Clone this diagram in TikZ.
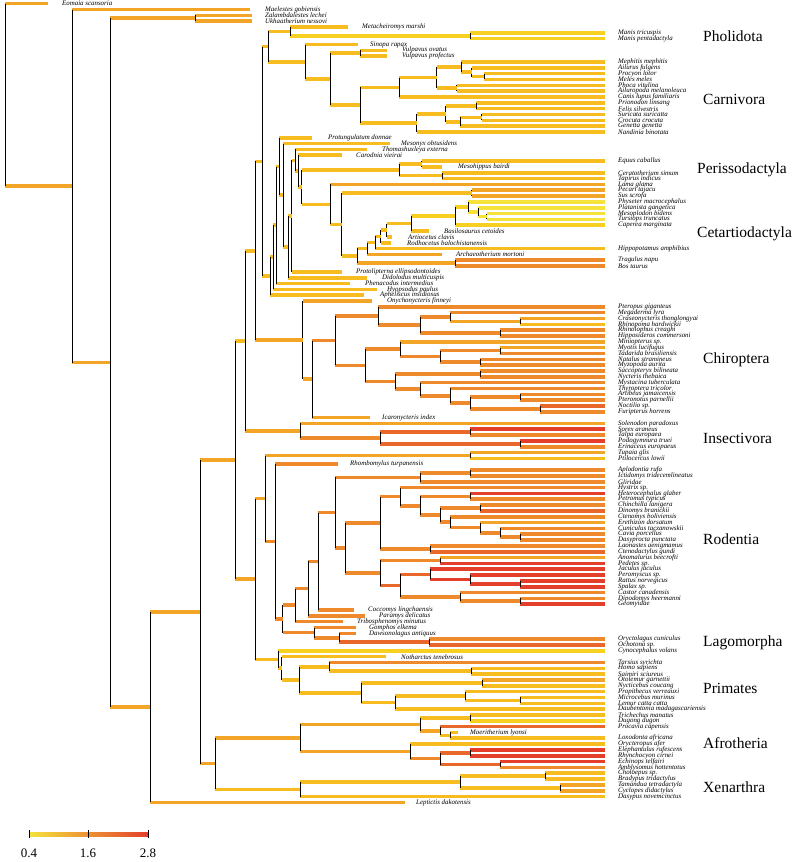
\documentclass[tikz,border=0pt]{standalone}
\usepackage{fontspec}
\setmainfont{Liberation Serif}
\usetikzlibrary{calc}

% rate colours (yellow = slow, red = fast)
\definecolor{rt1}{HTML}{F5E33C}
\definecolor{rt2}{HTML}{F8D021}
\definecolor{rt3}{HTML}{F7BC1F}
\definecolor{rt4}{HTML}{F3A527}
\definecolor{rt5}{HTML}{EE8A2B}
\definecolor{rt6}{HTML}{E9672B}
\definecolor{rt7}{HTML}{E33F2B}

\tikzset{
  bar/.style={line width=3.6pt},
  vline/.style={line width=0.8pt,black},
  tiplab/.style={anchor=west,inner sep=0pt,font=\fontsize{6.9}{6.9}\selectfont\itshape},
  cladelab/.style={anchor=west,inner sep=0pt,font=\fontsize{15.5}{15.5}\selectfont}
}

% living tip: name, row, label
\newcommand{\tipE}[3]{%
  \coordinate (#1) at (605,#2);
  \node[tiplab] (#1-l) at (618,#2) {#3};}
% fossil tip: name, row, end of branch, label x, label
\newcommand{\tipF}[5]{%
  \coordinate (#1) at (#3,#2);
  \node[tiplab] (#1-l) at (#4,#2) {#5};}
% clade: name, x, first child, colour, last child, colour
\newcommand{\clade}[6]{%
  \path let \p1=(#3), \p2=(#5) in (#2pt,{0.5*(\y1+\y2)}) coordinate (#1);
  \draw[bar,#4] (#1 |- #3) -- (#3);
  \draw[bar,#6] (#1 |- #5) -- (#5);
  \draw[vline] (#1 |- #3) -- (#1 |- #5);}

\begin{document}
\begin{tikzpicture}[x=1pt,y=-5.83pt]
\useasboundingbox (0pt,3.7pt) rectangle (794pt,-858.3pt);

% tips
\tipF{eom}{0}{48}{62}{Eomaia scansoria}
\tipF{mae}{1}{250}{265}{Maelestes gobiensis}
\tipF{zal}{2}{252}{265}{Zalambdalestes lechei}
\tipF{ukh}{3}{252}{265}{Ukhaatherium nessovi}
\tipF{met}{4}{348}{362}{Metacheiromys marshi}
\tipE{mtr}{5}{Manis tricuspis}
\tipE{mpe}{6}{Manis pentadactyla}
\tipF{sin}{7}{358}{370}{Sinopa rapax}
\tipF{vov}{8}{387}{402}{Vulpavus ovatus}
\tipF{vpr}{9}{387}{402}{Vulpavus profectus}
\tipE{meph}{10}{Mephitis mephitis}
\tipE{ailu}{11}{Ailurus fulgens}
\tipE{pcyn}{12}{Procyon lotor}
\tipE{mele}{13}{Meles meles}
\tipE{phoc}{14}{Phoca vitulina}
\tipE{ailm}{15}{Ailuropoda melanoleuca}
\tipE{cani}{16}{Canis lupus familiaris}
\tipE{prio}{17}{Prionodon linsang}
\tipE{feli}{18}{Felis silvestris}
\tipE{suri}{19}{Suricata suricatta}
\tipE{croc}{20}{Crocuta crocuta}
\tipE{gene}{21}{Genetta genetta}
\tipE{nand}{22}{Nandinia binotata}
\tipF{pro}{23}{312}{328}{Protungulatum donnae}
\tipF{mes}{24}{390}{401}{Mesonyx obtusidens}
\tipF{tho}{25}{367}{382}{Thomashuxleya externa}
\tipF{car}{26}{342}{356}{Carodnia vieirai}
\tipE{equ}{27}{Equus caballus}
\tipF{msh}{28}{442}{458}{Mesohippus bairdi}
\tipE{cer}{29}{Ceratotherium simum}
\tipE{tap}{30}{Tapirus indicus}
\tipE{lam}{31}{Lama glama}
\tipE{pec}{32}{Pecari tajacu}
\tipE{sus}{33}{Sus scrofa}
\tipE{phy}{34}{Physeter macrocephalus}
\tipE{pla}{35}{Platanista gangetica}
\tipE{mso}{36}{Mesoplodon bidens}
\tipE{tur}{37}{Tursiops truncatus}
\tipE{cap}{38}{Caperea marginata}
\tipF{bas}{39}{429}{444}{Basilosaurus cetoides}
\tipF{art}{40}{392}{408}{Artiocetus clavis}
\tipF{rodh}{41}{391}{407}{Rodhocetus balochistanensis}
\tipE{hip}{42}{Hippopotamus amphibius}
\tipF{archa}{43}{442}{456}{Archaeotherium mortoni}
\tipE{tra}{44}{Tragulus napu}
\tipE{bos}{45}{Bos taurus}
\tipF{ptl}{46}{342}{356}{Protolipterna ellipsodontoides}
\tipF{did}{47}{367}{382}{Didolodus multicuspis}
\tipF{phe}{48}{350}{365}{Phenacodus intermedius}
\tipF{hyo}{49}{377}{387}{Hyopsodus paulus}
\tipF{aph}{50}{364}{380}{Apheliscus insidiosus}
\tipF{ony}{51}{372}{387}{Onychonycteris finneyi}
\tipE{pter}{52}{Pteropus giganteus}
\tipE{mega}{53}{Megaderma lyra}
\tipE{cras}{54}{Craseonycteris thonglongyai}
\tipE{rhin}{55}{Rhinopoma hardwickii}
\tipE{rhol}{56}{Rhinolophus creaghi}
\tipE{hipp}{57}{Hipposideros commersoni}
\tipE{mini}{58}{Miniopterus sp.}
\tipE{myot}{59}{Myotis lucifugus}
\tipE{tada}{60}{Tadarida brasiliensis}
\tipE{nata}{61}{Natalus stramineus}
\tipE{myzo}{62}{Myzopoda aurita}
\tipE{sacc}{63}{Saccopteryx bilineata}
\tipE{nyct}{64}{Nycteris thebaica}
\tipE{myst}{65}{Mystacina tuberculata}
\tipE{thyr}{66}{Thyroptera tricolor}
\tipE{arti}{67}{Artibeus jamaicensis}
\tipE{pten}{68}{Pteronotus parnellii}
\tipE{noct}{69}{Noctilio sp.}
\tipE{furi}{70}{Furipterus horrens}
\tipF{ica}{71}{370}{382}{Icaronycteris index}
\tipE{sole}{72}{Solenodon paradoxus}
\tipE{sore}{73}{Sorex araneus}
\tipE{talp}{74}{Talpa europaea}
\tipE{podo}{75}{Podogymnura truei}
\tipE{erin}{76}{Erinaceus europaeus}
\tipE{tupa}{77}{Tupaia glis}
\tipE{ptil}{78}{Ptilocercus lowii}
\tipF{rho}{79}{338}{350}{Rhombomylus turpanensis}
\tipE{aplo}{80}{Aplodontia rufa}
\tipE{icti}{81}{Ictidomys tridecemlineatus}
\tipE{glir}{82}{Gliridae}
\tipE{hyst}{83}{Hystrix sp.}
\tipE{hete}{84}{Heterocephalus glaber}
\tipE{petr}{85}{Petromus typicus}
\tipE{chin}{86}{Chinchilla lanigera}
\tipE{dino}{87}{Dinomys branickii}
\tipE{cten}{88}{Ctenomys boliviensis}
\tipE{eret}{89}{Erethizon dorsatum}
\tipE{cuni}{90}{Cuniculus taczanowskii}
\tipE{cavi}{91}{Cavia porcellus}
\tipE{dspr}{92}{Dasyprocta punctata}
\tipE{laon}{93}{Laonastes aenigmamus}
\tipE{ctdy}{94}{Ctenodactylus gundi}
\tipE{anom}{95}{Anomalurus beecrofti}
\tipE{pede}{96}{Pedetes sp.}
\tipE{jacu}{97}{Jaculus jaculus}
\tipE{pero}{98}{Peromyscus sp.}
\tipE{ratt}{99}{Rattus norvegicus}
\tipE{spal}{100}{Spalax sp.}
\tipE{cast}{101}{Castor canadensis}
\tipE{dipo}{102}{Dipodomys heermanni}
\tipE{geom}{103}{Geomyidae}
\tipF{coc}{104}{354}{368}{Coccomys lingchaensis}
\tipF{par}{105}{365}{379}{Paramys delicatus}
\tipF{tri}{106}{343}{357}{Tribosphenomys minutus}
\tipF{gom}{107}{356}{369}{Gomphos elkema}
\tipF{daw}{108}{356}{369}{Dawsonolagus antiquus}
\tipE{orlg}{109}{Oryctolagus cuniculus}
\tipE{ocho}{110}{Ochotona sp.}
\tipE{cyno}{111}{Cynocephalus volans}
\tipF{not}{112}{386}{401}{Notharctus tenebrosus}
\tipE{tars}{113}{Tarsius syrichta}
\tipE{homo}{114}{Homo sapiens}
\tipE{saim}{115}{Saimiri sciureus}
\tipE{otol}{116}{Otolemur garnettii}
\tipE{nyci}{117}{Nycticebus coucang}
\tipE{prop}{118}{Propithecus verreauxi}
\tipE{micr}{119}{Microcebus murinus}
\tipE{lemu}{120}{Lemur catta catta}
\tipE{daub}{121}{Daubentonia madagascariensis}
\tipE{tric}{122}{Trichechus manatus}
\tipE{dugo}{123}{Dugong dugon}
\tipE{pcav}{124}{Procavia capensis}
\tipF{moe}{125}{458}{470}{Moeritherium lyonsi}
\tipE{loxo}{126}{Loxodonta africana}
\tipE{orct}{127}{Orycteropus afer}
\tipE{elep}{128}{Elephantulus rufescens}
\tipE{rhyn}{129}{Rhynchocyon cirnei}
\tipE{echi}{130}{Echinops telfairi}
\tipE{ambl}{131}{Amblysomus hottentotus}
\tipE{chol}{132}{Choloepus sp.}
\tipE{brad}{133}{Bradypus tridactylus}
\tipE{tama}{134}{Tamandua tetradactyla}
\tipE{cycl}{135}{Cyclopes didactylus}
\tipE{dsps}{136}{Dasypus novemcinctus}
\tipF{lep}{137}{405}{416}{Leptictis dakotensis}

% Ferae
\clade{man}{470}{mtr}{rt2}{mpe}{rt2}
\clade{pho}{290}{met}{rt3}{man}{rt2}
\clade{vul}{360}{vov}{rt3}{vpr}{rt3}
\clade{pm}{484}{pcyn}{rt3}{mele}{rt3}
\clade{ail}{471.7}{ailu}{rt3}{pm}{rt3}
\clade{mus}{461}{meph}{rt3}{ail}{rt3}
\clade{pha}{456.7}{phoc}{rt3}{ailm}{rt3}
\clade{arct}{436.7}{mus}{rt3}{pha}{rt3}
\clade{canf}{399}{arct}{rt3}{cani}{rt3}
\clade{pf}{476}{prio}{rt3}{feli}{rt3}
\clade{sc}{481.7}{suri}{rt3}{croc}{rt3}
\clade{hv}{460}{sc}{rt3}{gene}{rt3}
\clade{ff}{445.7}{pf}{rt3}{hv}{rt3}
\clade{felf}{416.7}{ff}{rt3}{nand}{rt3}
\clade{ccr}{360}{canf}{rt3}{felf}{rt3}
\clade{c330}{330}{vul}{rt3}{ccr}{rt3}
\clade{crn}{305}{sin}{rt3}{c330}{rt3}
\clade{fer}{268}{pho}{rt3}{crn}{rt3}

% ungulates
\clade{eqd}{421.7}{equ}{rt3}{msh}{rt3}
\clade{cta}{442}{cer}{rt3}{tap}{rt3}
\clade{per}{399}{eqd}{rt3}{cta}{rt3}
\clade{del}{486.7}{mso}{rt1}{tur}{rt1}
\clade{od2}{478.3}{pla}{rt1}{del}{rt1}
\clade{odo}{468.3}{phy}{rt1}{od2}{rt1}
\clade{cet}{455}{odo}{rt2}{cap}{rt2}
\clade{c411}{411}{cet}{rt2}{bas}{rt3}
\clade{c386}{386.7}{c411}{rt3}{art}{rt3}
\clade{c380}{380.7}{c386}{rt3}{rodh}{rt3}
\clade{c375}{375}{c380}{rt3}{hip}{rt3}
\clade{c367}{367.3}{c375}{rt3}{archa}{rt4}
\clade{rum}{455}{tra}{rt5}{bos}{rt5}
\clade{c357}{357.3}{c367}{rt3}{rum}{rt4}
\clade{sui}{471.7}{pec}{rt4}{sus}{rt4}
\clade{c341}{341.7}{sui}{rt3}{c357}{rt3}
\clade{art0}{330}{lam}{rt4}{c341}{rt3}
\clade{eun}{301.7}{per}{rt3}{art0}{rt3}
\clade{u2}{298.3}{car}{rt3}{eun}{rt3}
\clade{u3}{295}{tho}{rt3}{u2}{rt3}
\clade{u4}{291.7}{u3}{rt3}{ptl}{rt3}
\clade{u5}{288.3}{u4}{rt3}{did}{rt3}
\clade{u6}{283.3}{mes}{rt3}{u5}{rt3}
\clade{u7}{279}{pro}{rt3}{u6}{rt3}
\clade{u8}{276}{u7}{rt3}{phe}{rt3}
\clade{u9}{273}{u8}{rt3}{hyo}{rt3}
\clade{ung}{270}{u9}{rt3}{aph}{rt3}

% bats
\clade{crr}{520}{cras}{rt4}{rhin}{rt3}
\clade{meg}{450}{mega}{rt5}{crr}{rt4}
\clade{rhh}{500}{rhol}{rt5}{hipp}{rt5}
\clade{rhi}{420}{meg}{rt5}{rhh}{rt5}
\clade{yp}{378}{pter}{rt5}{rhi}{rt5}
\clade{v3}{500}{myot}{rt4}{tada}{rt5}
\clade{v4}{480}{nata}{rt5}{myzo}{rt5}
\clade{v2}{440}{v3}{rt5}{v4}{rt5}
\clade{ves}{400}{mini}{rt4}{v2}{rt5}
\clade{emb}{480}{sacc}{rt5}{nyct}{rt5}
\clade{n4}{520}{arti}{rt5}{pten}{rt5}
\clade{n5}{540}{noct}{rt6}{furi}{rt5}
\clade{n3}{470}{n4}{rt5}{n5}{rt5}
\clade{n2}{450}{thyr}{rt5}{n3}{rt5}
\clade{noc}{420}{myst}{rt5}{n2}{rt5}
\clade{en}{395}{emb}{rt5}{noc}{rt5}
\clade{yg}{365}{ves}{rt5}{en}{rt5}
\clade{bcr}{335}{yp}{rt5}{yg}{rt5}
\clade{ch1}{312}{bcr}{rt5}{ica}{rt4}
\clade{chi}{302.7}{ony}{rt4}{ch1}{rt4}
\clade{fu}{262}{fer}{rt3}{ung}{rt3}
\clade{scr}{255}{fu}{rt3}{chi}{rt4}

% insectivores
\clade{sot}{470}{sore}{rt7}{talp}{rt5}
\clade{eri}{520}{podo}{rt7}{erin}{rt5}
\clade{e1}{380}{sot}{rt6}{eri}{rt6}
\clade{eul}{300}{sole}{rt4}{e1}{rt5}
\clade{lau}{245}{scr}{rt3}{eul}{rt4}

% Euarchontoglires
\clade{sca}{470}{tupa}{rt4}{ptil}{rt3}
\clade{sc2}{470}{aplo}{rt5}{icti}{rt5}
\clade{sq}{420}{sc2}{rt5}{glir}{rt5}
\clade{ph}{470}{hete}{rt7}{petr}{rt5}
\clade{chd}{480}{chin}{rt5}{dino}{rt6}
\clade{cd}{520}{cavi}{rt5}{dspr}{rt5}
\clade{cc3}{500}{cuni}{rt5}{cd}{rt5}
\clade{cc2}{480}{eret}{rt4}{cc3}{rt5}
\clade{cc}{450}{cten}{rt5}{cc2}{rt5}
\clade{cav}{440}{chd}{rt5}{cc}{rt5}
\clade{h2}{420}{ph}{rt5}{cav}{rt5}
\clade{hys}{400}{hyst}{rt5}{h2}{rt5}
\clade{ctd}{430}{laon}{rt5}{ctdy}{rt6}
\clade{cte}{380}{hys}{rt5}{ctd}{rt5}
\clade{ap}{440}{anom}{rt4}{pede}{rt7}
\clade{m4}{520}{ratt}{rt7}{spal}{rt7}
\clade{m3}{470}{pero}{rt7}{m4}{rt7}
\clade{my}{430}{jacu}{rt7}{m3}{rt7}
\clade{gd}{520}{dipo}{rt5}{geom}{rt7}
\clade{cg}{460}{cast}{rt5}{gd}{rt5}
\clade{m2}{400}{my}{rt6}{cg}{rt5}
\clade{mr}{380}{ap}{rt5}{m2}{rt6}
\clade{r2}{345}{cte}{rt5}{mr}{rt5}
\clade{rc}{335}{sq}{rt5}{r2}{rt5}
\clade{rd2}{318.3}{rc}{rt5}{coc}{rt5}
\clade{rd1}{308.3}{rd2}{rt5}{par}{rt5}
\clade{rodn}{295}{rd1}{rt5}{tri}{rt5}
\clade{lc}{429.3}{orlg}{rt5}{ocho}{rt6}
\clade{l2}{339.3}{daw}{rt5}{lc}{rt6}
\clade{lag}{314}{gom}{rt5}{l2}{rt5}
\clade{gl2}{282.7}{rodn}{rt5}{lag}{rt5}
\clade{gl}{275}{rho}{rt5}{gl2}{rt5}
\clade{gs}{265}{sca}{rt4}{gl}{rt5}
\clade{ant}{471}{homo}{rt3}{saim}{rt3}
\clade{hap}{329.3}{tars}{rt5}{ant}{rt3}
\clade{lor}{482.3}{otol}{rt4}{nyci}{rt3}
\clade{lm}{520}{micr}{rt3}{lemu}{rt3}
\clade{l1}{465}{prop}{rt3}{lm}{rt3}
\clade{lem}{395}{l1}{rt3}{daub}{rt3}
\clade{str}{361}{lor}{rt3}{lem}{rt3}
\clade{prc}{299.3}{hap}{rt3}{str}{rt3}
\clade{pr1}{281.7}{not}{rt3}{prc}{rt3}
\clade{ea}{278}{cyno}{rt2}{pr1}{rt3}
\clade{eu}{255}{gs}{rt4}{ea}{rt3}
\clade{bo}{235}{lau}{rt3}{eu}{rt4}

% Afrotheria, Xenarthra
\clade{sir}{470}{tric}{rt3}{dugo}{rt2}
\clade{pb}{450}{moe}{rt3}{loxo}{rt3}
\clade{px}{440}{pcav}{rt6}{pb}{rt3}
\clade{pa}{420}{sir}{rt3}{px}{rt4}
\clade{mac}{470}{elep}{rt7}{rhyn}{rt7}
\clade{afs}{500}{echi}{rt7}{ambl}{rt5}
\clade{ai2}{440}{mac}{rt6}{afs}{rt6}
\clade{ai}{410}{orct}{rt3}{ai2}{rt5}
\clade{af}{300}{pa}{rt4}{ai}{rt4}
\clade{fol}{545}{chol}{rt3}{brad}{rt3}
\clade{ver}{560}{tama}{rt4}{cycl}{rt4}
\clade{pil}{460}{fol}{rt3}{ver}{rt3}
\clade{xe}{300}{pil}{rt3}{dsps}{rt3}
\clade{at}{215}{af}{rt4}{xe}{rt3}

% backbone
\clade{pl}{200}{bo}{rt4}{at}{rt4}
\clade{bb}{150}{pl}{rt4}{lep}{rt4}
\clade{zu}{195}{zal}{rt4}{ukh}{rt4}
\clade{n110}{110}{zu}{rt4}{bb}{rt4}
\clade{n72}{72}{mae}{rt4}{n110}{rt4}
\clade{root}{5}{eom}{rt4}{n72}{rt4}

% clade names
\node[cladelab] (pholidota) at (703,5.6) {Pholidota};
\node[cladelab] (carnivora) at (703,16.5) {Carnivora};
\node[cladelab] (perisso) at (697,28.5) {Perissodactyla};
\node[cladelab] (cetartio) at (697,39.5) {Cetartiodactyla};
\node[cladelab] (chiroptera) at (703,61) {Chiroptera};
\node[cladelab] (insectivora) at (703,74.5) {Insectivora};
\node[cladelab] (rodentia) at (703,91.8) {Rodentia};
\node[cladelab] (lagomorpha) at (703,109.7) {Lagomorpha};
\node[cladelab] (primates) at (703,117.5) {Primates};
\node[cladelab] (afrotheria) at (703,126.8) {Afrotheria};
\node[cladelab] (xenarthra) at (703,134.4) {Xenarthra};

% colour key
\shade[left color=rt1,middle color=rt5,right color=rt7] (29pt,-828.3pt) rectangle (148pt,-832.3pt);
\foreach \kx/\kv in {29/0.4,88/1.6,148/2.8}{
  \draw[line width=0.8pt] (\kx pt,-826.3pt) -- (\kx pt,-834.3pt);
  \node[font=\fontsize{13}{13}\selectfont] (key\kx) at (\kx pt,-849.3pt) {\kv};
}
\end{tikzpicture}
\end{document}
